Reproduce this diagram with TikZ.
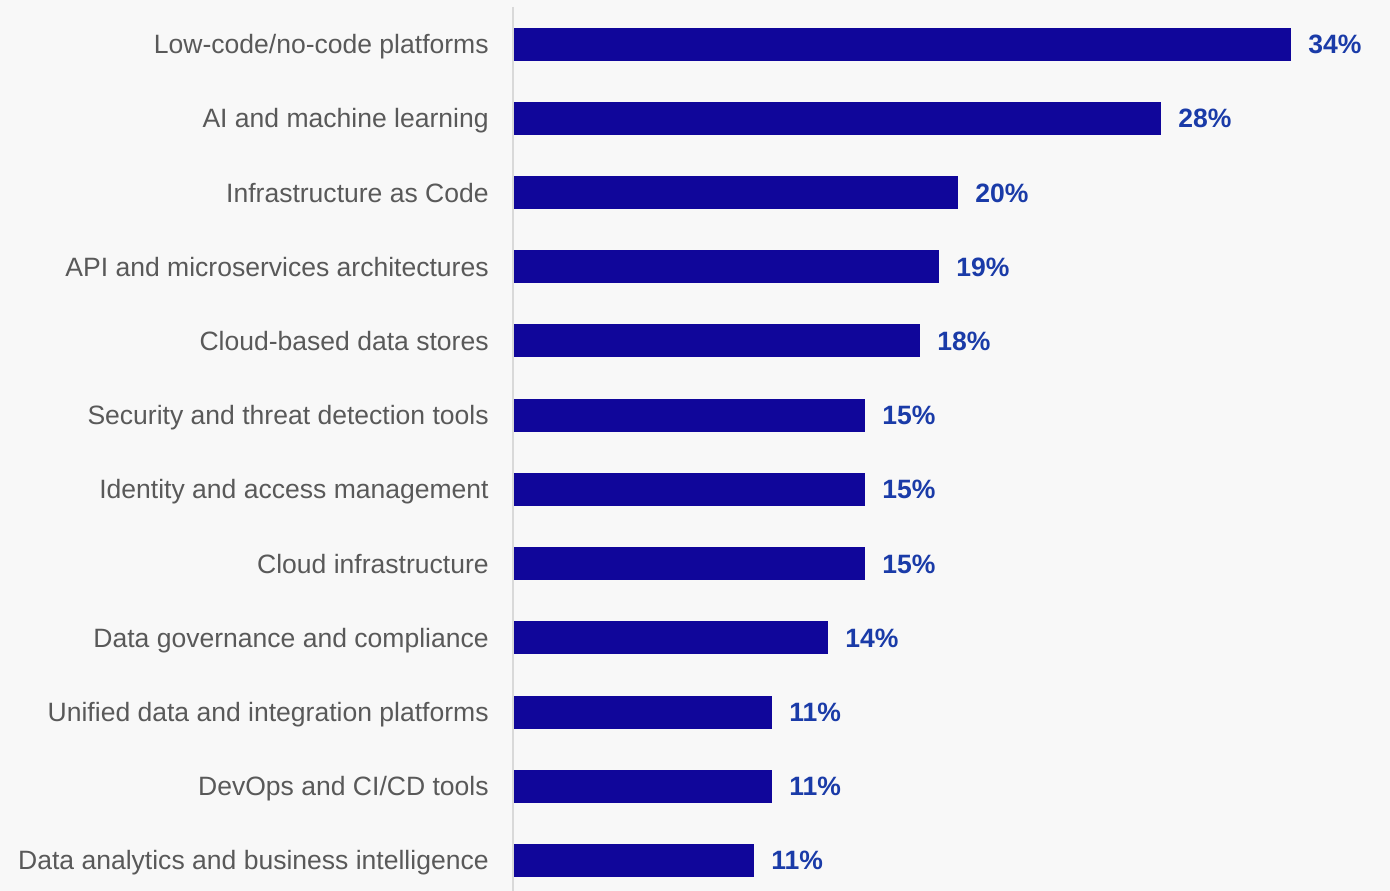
\documentclass[tikz,border=0pt]{standalone}
\usepackage{fontspec}
\setmainfont{Liberation Sans}
\definecolor{barblue}{HTML}{10069A}
\definecolor{pctblue}{HTML}{1A3BA8}
\definecolor{labelgray}{HTML}{595959}
\definecolor{axisgray}{HTML}{D9D9D9}
\definecolor{bggray}{HTML}{F8F8F8}
\tikzset{
  catlabel/.style={anchor=base east,text=labelgray,inner sep=0pt,font=\fontsize{15.1}{18}\selectfont},
  pctlabel/.style={anchor=base west,text=pctblue,inner sep=0pt,font=\fontsize{15.1}{18}\selectfont\bfseries},
  bar/.style={fill=barblue,draw=none}
}
\begin{document}
\begin{tikzpicture}[x=0.02cm,y=-0.02cm]
				\fill[bggray] (0,0) rectangle (1390,891);
				\useasboundingbox (0,0) rectangle (1390,891);
				\draw[axisgray,line width=0.04cm] (513,7) -- (513,891);
				% bars, top to bottom
				\filldraw[bar] (514,27.7) rectangle (1291,60.7);
				\filldraw[bar] (514,101.9) rectangle (1161,134.9);
				\filldraw[bar] (514,176.1) rectangle (958,209.1);
				\filldraw[bar] (514,250.3) rectangle (939,283.3);
				\filldraw[bar] (514,324.5) rectangle (920,357.5);
				\filldraw[bar] (514,398.7) rectangle (865,431.7);
				\filldraw[bar] (514,472.9) rectangle (865,505.9);
				\filldraw[bar] (514,547.1) rectangle (865,580.1);
				\filldraw[bar] (514,621.3) rectangle (828,654.3);
				\filldraw[bar] (514,695.5) rectangle (772,728.5);
				\filldraw[bar] (514,769.7) rectangle (772,802.7);
				\filldraw[bar] (514,843.9) rectangle (754,876.9);
				% category names
				\node[catlabel] (c1) at (489,53.7) {Low-code/no-code platforms};
				\node[catlabel] (c2) at (489,127.9) {AI and machine learning};
				\node[catlabel] (c3) at (489,202.1) {Infrastructure as Code};
				\node[catlabel] (c4) at (489,276.3) {API and microservices architectures};
				\node[catlabel] (c5) at (489,350.5) {Cloud-based data stores};
				\node[catlabel] (c6) at (489,424.7) {Security and threat detection tools};
				\node[catlabel] (c7) at (489,498.9) {Identity and access management};
				\node[catlabel] (c8) at (489,573.1) {Cloud infrastructure};
				\node[catlabel] (c9) at (489,647.3) {Data governance and compliance};
				\node[catlabel] (c10) at (489,721.5) {Unified data and integration platforms};
				\node[catlabel] (c11) at (489,795.7) {DevOps and CI/CD tools};
				\node[catlabel] (c12) at (489,869.9) {Data analytics and business intelligence};
				% values
				\node[pctlabel] (p1) at (1308,53.7) {34\%};
				\node[pctlabel] (p2) at (1178,127.9) {28\%};
				\node[pctlabel] (p3) at (975,202.1) {20\%};
				\node[pctlabel] (p4) at (956,276.3) {19\%};
				\node[pctlabel] (p5) at (937,350.5) {18\%};
				\node[pctlabel] (p6) at (882,424.7) {15\%};
				\node[pctlabel] (p7) at (882,498.9) {15\%};
				\node[pctlabel] (p8) at (882,573.1) {15\%};
				\node[pctlabel] (p9) at (845,647.3) {14\%};
				\node[pctlabel] (p10) at (789,721.5) {11\%};
				\node[pctlabel] (p11) at (789,795.7) {11\%};
				\node[pctlabel] (p12) at (771,869.9) {11\%};
\end{tikzpicture}
\end{document}
